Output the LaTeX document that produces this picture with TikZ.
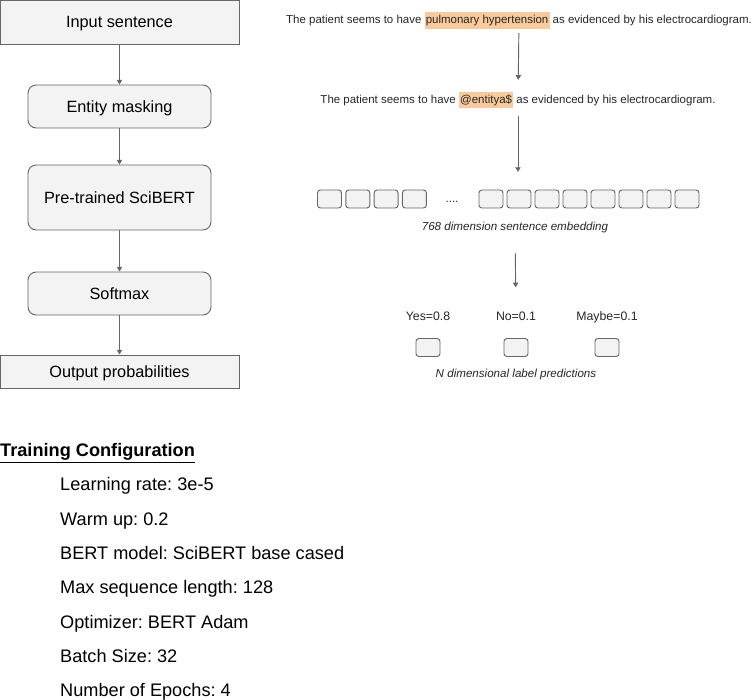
\documentclass[tikz,border=0pt]{standalone}
\usepackage{fontspec}
\setmainfont{Liberation Sans}
\usepackage{xcolor}
\usetikzlibrary{arrows.meta}
\definecolor{boxfill}{HTML}{F3F3F3}
\definecolor{boxline}{HTML}{666666}
\definecolor{hilite}{HTML}{F9CB9C}
\newcommand{\hlword}[1]{{\setlength{\fboxsep}{1pt}\colorbox{hilite}{\strut #1}}}
\frenchspacing

\begin{document}
\begin{tikzpicture}[x=0.03cm,y=-0.03cm]
\useasboundingbox (0,0) rectangle (754,700);

\begin{scope}[every node/.style={rectangle,draw=boxline,fill=boxfill,line width=0.8pt,
              text depth=0pt,font=\fontsize{13.9}{16}\selectfont}]
    \node[minimum width=7.17cm,minimum height=1.32cm] (In) at (119.5,22) {Input sentence};
    \node[rounded corners=7pt,minimum width=5.49cm,minimum height=1.29cm] (Mask) at (119.5,106.5) {Entity masking};
    \node[rounded corners=7pt,minimum width=5.49cm,minimum height=1.95cm] (Bert) at (119.5,197.5) {Pre-trained SciBERT};
    \node[rounded corners=7pt,minimum width=5.49cm,minimum height=1.29cm] (Soft) at (119.5,293.5) {Softmax};
    \node[minimum width=7.17cm,minimum height=0.99cm] (Out) at (119.5,371.5) {Output probabilities};
    % embedding cells
    \foreach \i in {0,...,3}
        \node[rounded corners=2.5pt,minimum width=0.72cm,minimum height=0.54cm] (E\i) at (329.5+28.3*\i,199) {};
    \foreach \i in {0,...,7}
        \node[rounded corners=2.5pt,minimum width=0.72cm,minimum height=0.54cm] (F\i) at (491+28*\i,199) {};
    \node[rounded corners=2.5pt,minimum width=0.72cm,minimum height=0.54cm] (Cy) at (428,347.5) {};
    \node[rounded corners=2.5pt,minimum width=0.72cm,minimum height=0.54cm] (Cn) at (516,347.5) {};
    \node[rounded corners=2.5pt,minimum width=0.72cm,minimum height=0.54cm] (Cm) at (607,347.5) {};
    \end{scope}

\begin{scope}[every node/.style={font=\fontsize{9.8}{12}\selectfont,text=black!85}]
    \node[anchor=base] (S1) at (519,23.5) {The patient seems to have \hlword{pulmonary hypertension} as evidenced by his electrocardiogram.};
    \node[anchor=base] (S2) at (518,103) {The patient seems to have \hlword{@entitya\$} as evidenced by his electrocardiogram.};
    \node[anchor=base] (Dots) at (452,202) {....};
    \node[font=\fontsize{9.9}{12}\itshape] (Emb) at (515,227) {768 dimension sentence embedding};
    \node[anchor=base,font=\fontsize{10.5}{12}\selectfont] (Yes) at (428,320) {Yes=0.8};
    \node[anchor=base,font=\fontsize{10.5}{12}\selectfont] (No) at (516,320) {No=0.1};
    \node[anchor=base,font=\fontsize{10.5}{12}\selectfont] (May) at (607,320) {Maybe=0.1};
    \node[font=\fontsize{9.9}{12}\itshape] (Pred) at (516,374) {N dimensional label predictions};
    \end{scope}

\begin{scope}[>={Triangle[width=4.5pt,length=4pt]},
              every path/.style={draw=boxline,line width=0.8pt}]
    \path [->] (In) edge (Mask);
    \path [->] (Mask) edge (Bert);
    \path [->] (Bert) edge (Soft);
    \path [->] (Soft) edge (Out);
    \path [->,shorten >=6.8pt] (S1) edge (S2);
    \path [->,shorten <=3pt,shorten >=15pt] (S2) edge (S2 |- F0.north);
    \path [->,shorten <=14.4pt,shorten >=17pt] (Emb) edge (No);
    \end{scope}

% training configuration
\node[anchor=base west,inner sep=0pt,font=\fontsize{15.5}{18}\bfseries] (Cfg) at (0,456.7) {\underline{Training Configuration}};
\foreach \t [count=\k from 0] in {Learning rate: 3e-5,Warm up: 0.2,BERT model: SciBERT base cased,
        Max sequence length: 128,Optimizer: BERT Adam,Batch Size: 32,Number of Epochs: 4}
    \node[anchor=base west,inner sep=0pt,font=\fontsize{15.5}{18}\selectfont] (T\k) at (60,490.7+34.33*\k) {\t};

\end{tikzpicture}
\end{document}
